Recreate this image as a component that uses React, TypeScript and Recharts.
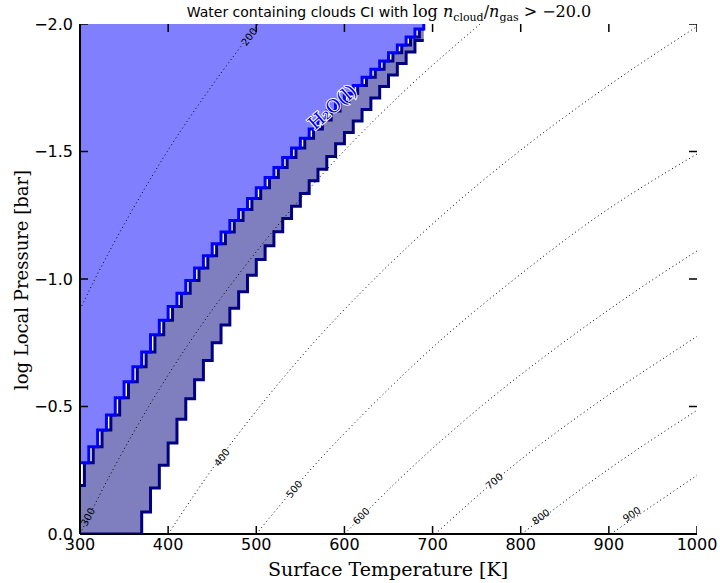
import React from 'react'
import { ComposedChart, Area, Line, Scatter, XAxis, YAxis } from 'recharts'

const tempTicks = [300, 400, 500, 600, 700, 800, 900, 1000]
const presTicks = [-2, -1.5, -1, -0.5, 0]

// grid columns (surface temperature, K), 10 K wide
const cellT = [
  300, 310, 320, 330, 340, 350, 360, 370, 380, 390, 400, 410, 420, 430, 440, 450, 460, 470, 480, 490,
  500, 510, 520, 530, 540, 550, 560, 570, 580, 590, 600, 610, 620, 630, 640, 650, 660, 670, 680,
]
// lower edge of the light blue region (log P) per column
const iceEdge = [
  -0.279, -0.342, -0.408, -0.467, -0.534, -0.597, -0.656, -0.714, -0.781, -0.838,
  -0.892, -0.944, -0.994, -1.043, -1.091, -1.138, -1.184, -1.229, -1.273, -1.316,
  -1.358, -1.398, -1.437, -1.476, -1.514, -1.552, -1.588, -1.624, -1.659, -1.694,
  -1.727, -1.759, -1.791, -1.823, -1.855, -1.887, -1.918, -1.949, -1.98,
]
// lower edge of the grey (cloud) region per column
const cloudBase = [
  0, 0, 0, 0, 0, 0, 0, -0.086, -0.18, -0.27,
  -0.357, -0.45, -0.53, -0.605, -0.68, -0.75, -0.82, -0.885, -0.95, -1.015,
  -1.076, -1.13, -1.185, -1.237, -1.285, -1.335, -1.385, -1.43, -1.48, -1.53,
  -1.575, -1.62, -1.665, -1.71, -1.755, -1.8, -1.845, -1.89, -1.935,
]
const cloudTopFirst = -0.19

// dotted isotherms: [surface T, log P]
const iso200 = [[300, -0.88], [317, -1.0], [356, -1.25], [399, -1.5], [448, -1.75], [502, -2.0]]
const iso300 = [[300, 0], [337, -0.25], [378, -0.5], [424, -0.75], [476, -1.0], [534, -1.25], [599, -1.5], [672, -1.75], [754, -2.0]]
const iso400 = [[400, 0], [449, -0.25], [504, -0.5], [565, -0.75], [634, -1.0], [711, -1.25], [798, -1.5], [896, -1.75], [1000, -1.99]]
const iso500 = [[500, 0], [561, -0.25], [630, -0.5], [706, -0.75], [793, -1.0], [889, -1.25], [1000, -1.49]]
const iso600 = [[600, 0], [673, -0.25], [755, -0.5], [848, -0.75], [951, -1.0], [1000, -1.11]]
const iso700 = [[703, 0], [785, -0.25], [881, -0.5], [989, -0.75], [1000, -0.775]]
const iso800 = [[801, 0], [898, -0.25], [1000, -0.485]]
const iso900 = [[902, 0], [1000, -0.23]]
const isotherms = [iso200, iso300, iso400, iso500, iso600, iso700, iso800, iso900]

const isoLabels = [
  { t: 492, p: -1.95, text: '200', angle: 53 },
  { t: 309, p: -0.067, text: '300', angle: 62 },
  { t: 461, p: -0.3, text: '400', angle: 53 },
  { t: 543, p: -0.176, text: '500', angle: 50 },
  { t: 619, p: -0.07, text: '600', angle: 45 },
  { t: 770, p: -0.207, text: '700', angle: 40 },
  { t: 823, p: -0.067, text: '800', angle: 36 },
  { t: 926, p: -0.077, text: '900', angle: 34 },
]
const phaseLabels = [{ t: 586, p: -1.675, text: 'H₂O(l)', angle: 41 }]

const cloudRows: any[] = cellT.flatMap((t, k) => [
  { t, ice: iceEdge[k], cloud: [k === 0 ? cloudTopFirst : iceEdge[k - 1], cloudBase[k]] },
  { t: t + 5, ice: iceEdge[k], cloud: [iceEdge[k], cloudBase[k]] },
])
cloudRows.push({ t: 690, ice: -2, cloud: [iceEdge[38], cloudBase[38]] })

// inward tick marks on all four sides of the frame
const tickMarks = [
  ...tempTicks.map(t => ({ t, p: 0, dx: 0, dy: -8 })),
  ...tempTicks.map(t => ({ t, p: -2, dx: 0, dy: 8 })),
  ...presTicks.map(p => ({ t: 300, p, dx: 8, dy: 0 })),
  ...presTicks.map(p => ({ t: 1000, p, dx: -8, dy: 0 })),
]

const fmtP = (v: number) => (v < 0 ? '\u2212' : '') + Math.abs(v).toFixed(1)

function IsoText(props: any) {
  const { cx, cy, payload } = props
  if (cx == null || cy == null) return null
  return (
    <text x={cx} y={cy} textAnchor="middle" dominantBaseline="central" fontSize={10}
      fontFamily="DejaVu Sans" fill="#000" transform={`rotate(${-payload.angle} ${cx} ${cy})`}>
      {payload.text}
    </text>
  )
}

function PhaseText(props: any) {
  const { cx, cy, payload } = props
  if (cx == null || cy == null) return null
  return (
    <text x={cx} y={cy} textAnchor="middle" dominantBaseline="central" fontSize={18}
      fontFamily="DejaVu Serif" fill="#0000ff" stroke="#fff" strokeWidth={2} paintOrder="stroke"
      transform={`rotate(${-payload.angle} ${cx} ${cy})`}>
      {payload.text}
    </text>
  )
}

function TickMark(props: any) {
  const { cx, cy, payload } = props
  if (cx == null || cy == null) return null
  return <line x1={cx} y1={cy} x2={cx + payload.dx} y2={cy + payload.dy} stroke="#000" strokeWidth={1.5} />
}

const font = { fontSize: 16, fill: '#000', fontFamily: 'DejaVu Sans' }
const frame = { stroke: '#000', strokeWidth: 2 }

function BottomTick({ x, y, payload }: any) {
  return <text x={x} y={y} dy="0.76em" textAnchor="middle" {...font}>{payload.value}</text>
}
function LeftTick({ x, y, payload }: any) {
  return <text x={x} y={y} dy="0.36em" textAnchor="end" {...font}>{fmtP(payload.value)}</text>
}

export default function App() {
  return (
    <div style={{ position: 'absolute', left: 0, top: 0, width: 720, height: 583, background: '#fff' }}>
      <div style={{ position: 'absolute', left: 0, width: 778, top: 2, textAlign: 'center', fontSize: 14, fontFamily: 'DejaVu Sans', whiteSpace: 'nowrap' }}>
        Water containing clouds CI with{' '}
        <span style={{ fontFamily: 'DejaVu Serif', fontSize: 16 }}>
          log <i>n</i><sub style={{ fontSize: 11 }}>cloud</sub>/<i>n</i><sub style={{ fontSize: 11 }}>gas</sub> &gt; −20.0
        </span>
      </div>
      <ComposedChart width={720} height={583} data={cloudRows}
        margin={{ top: 24, right: 23, bottom: 0, left: 0 }}>
        <Area dataKey="cloud" type="stepAfter" fill="#7f7fbf" fillOpacity={1} stroke="#000080"
          strokeWidth={3} isAnimationActive={false} />
        <Area dataKey="ice" type="stepAfter" baseValue={-2} fill="#8080ff" fillOpacity={1} stroke="#0000ff"
          strokeWidth={3} isAnimationActive={false} />
        {isotherms.map((pts, i) => (
          <Line key={i} data={pts.map(([t, p]) => ({ t, p }))} dataKey="p" type="monotone" stroke="#000"
            strokeWidth={1} strokeDasharray="1 3" dot={false} activeDot={false} isAnimationActive={false} />
        ))}
        <Scatter data={isoLabels} dataKey="p" shape={IsoText} isAnimationActive={false} />
        <Scatter data={phaseLabels} dataKey="p" shape={PhaseText} isAnimationActive={false} />
        <Scatter data={tickMarks} dataKey="p" shape={TickMark} isAnimationActive={false} />
        <XAxis dataKey="t" type="number" domain={[300, 1000]} ticks={tempTicks} allowDataOverflow interval={0}
          height={49} tickSize={0} tickMargin={4} tick={BottomTick} axisLine={frame} tickLine={false} />
        <XAxis xAxisId="top" orientation="top" type="number" domain={[300, 1000]} ticks={tempTicks}
          allowDataOverflow interval={0} height={0} tick={false} axisLine={frame} tickLine={false} />
        <YAxis type="number" domain={[-2, 0]} reversed ticks={presTicks} allowDataOverflow interval={0}
          width={80} tickSize={0} tickMargin={7} tick={LeftTick} axisLine={frame} tickLine={false} />
        <YAxis yAxisId="right" orientation="right" type="number" domain={[-2, 0]} reversed ticks={presTicks}
          allowDataOverflow interval={0} width={0} tick={false} axisLine={frame} tickLine={false} />
      </ComposedChart>
      <div style={{ position: 'absolute', left: 388, top: 569, transform: 'translate(-50%, -50%)', fontSize: 19, fontFamily: 'DejaVu Serif', whiteSpace: 'nowrap' }}>
        Surface Temperature [K]
      </div>
      <div style={{ position: 'absolute', left: 21, top: 280, transform: 'translate(-50%, -50%) rotate(-90deg)', fontSize: 18, fontFamily: 'DejaVu Serif', whiteSpace: 'nowrap' }}>
        log Local Pressure [bar]
      </div>
    </div>
  )
}
